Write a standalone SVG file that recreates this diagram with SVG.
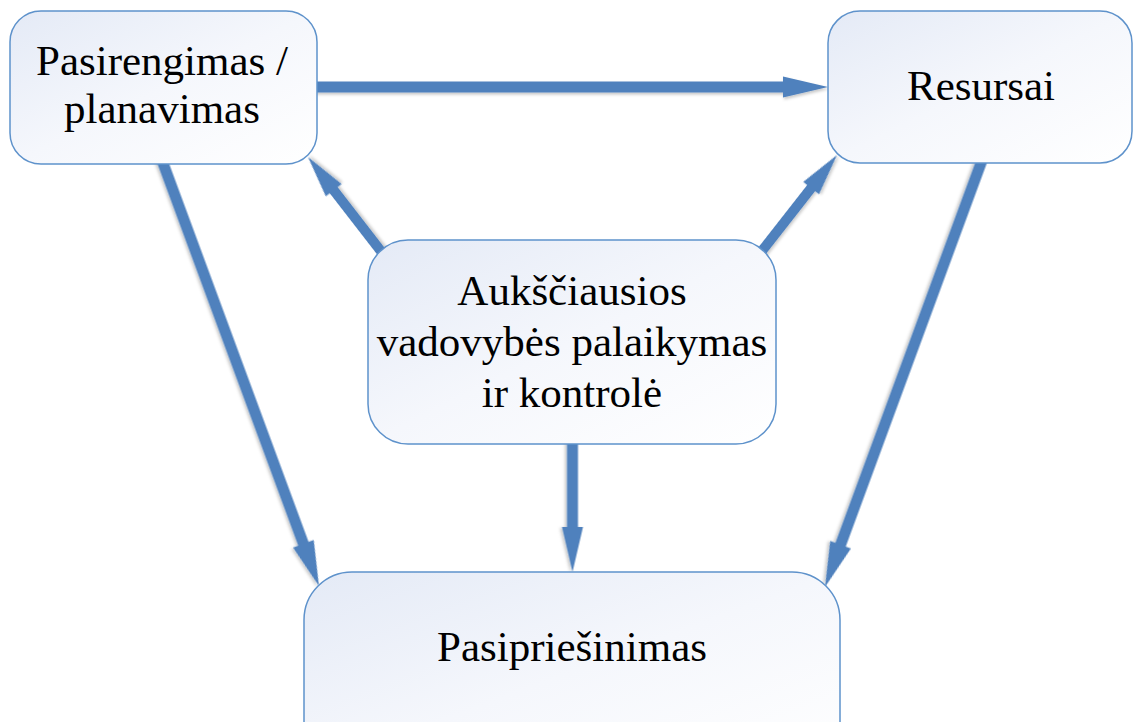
<svg xmlns="http://www.w3.org/2000/svg" width="1133" height="722" viewBox="0 0 1133 722">
  <defs>
    <linearGradient id="boxFill" x1="0" y1="0" x2="1" y2="1">
      <stop offset="0" stop-color="#e4eaf6"/>
      <stop offset="0.5" stop-color="#f5f7fc"/>
      <stop offset="1" stop-color="#ffffff"/>
    </linearGradient>
    <filter id="shadow" x="-20%" y="-20%" width="140%" height="140%">
      <feDropShadow dx="1" dy="2" stdDeviation="1.8" flood-color="#000" flood-opacity="0.22"/>
    </filter>
  </defs>
  <style>
    .box { fill: url(#boxFill); stroke: #5e92cb; stroke-width: 1.5; }
    .arrow { fill: #4f81bd; filter: url(#shadow); }
    .label { font-size: 43px; fill: #000; text-anchor: middle; }
  </style>
  <rect width="1133" height="722" fill="#ffffff"/>

  <g id="connectors">
    <path class="arrow" transform="translate(310,87) rotate(0)" d="M0,-5.5 L473,-5.5 L473,-10.5 L518,0 L473,10.5 L473,5.5 L0,5.5 Z"/>
    <path class="arrow" transform="translate(158.2,150) rotate(69.76)" d="M0,-5.5 L419.7,-5.5 L419.7,-11 L464.7,0 L419.7,11 L419.7,5.5 L0,5.5 Z"/>
    <path class="arrow" transform="translate(985.8,150) rotate(110.2)" d="M0,-5.5 L420.6,-5.5 L420.6,-11 L465.6,0 L420.6,11 L420.6,5.5 L0,5.5 Z"/>
    <path class="arrow" transform="translate(572.5,435) rotate(90)" d="M0,-5.5 L92,-5.5 L92,-10.5 L137,0 L92,10.5 L92,5.5 L0,5.5 Z"/>
    <path class="arrow" transform="translate(384.9,256.3) rotate(-127.75)" d="M0,-5 L83.6,-5 L83.6,-10 L125.6,0 L83.6,10 L83.6,5 L0,5 Z"/>
    <path class="arrow" transform="translate(760.1,253.3) rotate(-51.95)" d="M0,-5 L82.8,-5 L82.8,-10 L124.8,0 L82.8,10 L82.8,5 L0,5 Z"/>
  </g>

  <g id="node-pasirengimas" font-family="'Liberation Serif', 'Times New Roman', serif">
    <rect class="box" x="10" y="11" width="307" height="153" rx="31" ry="31"/>
    <text class="label" x="162" y="75">Pasirengimas /</text>
    <text class="label" x="162" y="123">planavimas</text>
  </g>

  <g id="node-resursai" font-family="'Liberation Serif', 'Times New Roman', serif">
    <rect class="box" x="828" y="11" width="304" height="152" rx="32" ry="32"/>
    <text class="label" x="981" y="100">Resursai</text>
  </g>

  <g id="node-vadovybe" font-family="'Liberation Serif', 'Times New Roman', serif">
    <rect class="box" x="368" y="240" width="408" height="204" rx="40" ry="40"/>
    <text class="label" x="572" y="305">Aukščiausios</text>
    <text class="label" x="572" y="356">vadovybės palaikymas</text>
    <text class="label" x="572" y="407">ir kontrolė</text>
  </g>

  <g id="node-pasipriesinimas" font-family="'Liberation Serif', 'Times New Roman', serif">
    <rect class="box" x="304" y="572" width="536" height="200" rx="48" ry="48"/>
    <text class="label" x="572" y="661">Pasipriešinimas</text>
  </g>
</svg>
